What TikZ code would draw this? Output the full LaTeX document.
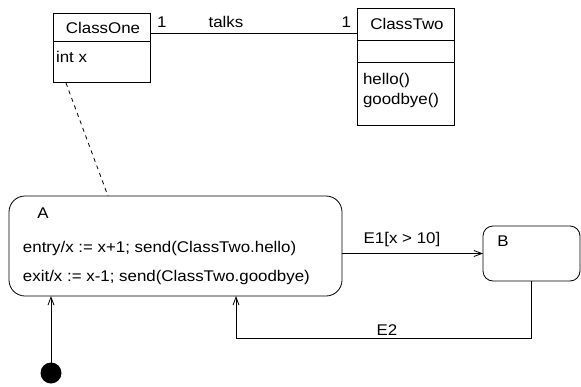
\documentclass[tikz,border=0pt]{standalone}
\usepackage{fontspec}
\setmainfont{Liberation Sans}[FakeStretch=1.09]
\usetikzlibrary{arrows.meta}

\begin{document}
\begin{tikzpicture}[y=-1pt, x=1pt, inner sep=0pt, outer sep=0pt,
  box/.style={draw=black, line width=0.8pt, minimum width=97pt},
  state/.style={draw=black, line width=0.8pt},
  txt/.style={font=\fontsize{15.5}{17}\selectfont},
  link/.style={draw=black, line width=0.8pt},
  tip/.style={-{Straight Barb[length=8pt,width=6pt]}}]
\useasboundingbox (0,0) rectangle (581,386);
% class diagram
\node[box, minimum height=69pt] (one) at (101.5,47.5) {};
\node[box, minimum height=117pt] (two) at (405.5,66.5) {};
\path[link] (one.west |- 0,41) -- (one.east |- 0,41);
\path[link] (two.west |- 0,40) -- (two.east |- 0,40);
\path[link] (two.west |- 0,62) -- (two.east |- 0,62);
\node[txt] (onename) at (103,28) {ClassOne};
\node[txt, anchor=west] (oneattr) at (56,57) {int x};
\node[txt] (twoname) at (407,24) {ClassTwo};
\node[txt, anchor=west] (twohello) at (363,80) {hello()};
\node[txt, anchor=west] (twobye) at (363,100) {goodbye()};
\path[link] (one.east |- 0,33) -- (two.west |- 0,33);
\node[txt, anchor=west] (multone) at (157,22) {1};
\node[txt] (assoc) at (226,22) {talks};
\node[txt, anchor=east] (multtwo) at (351,22) {1};
% state diagram
\node[state, rounded corners=16pt, minimum width=333pt, minimum height=100pt]
  (A) at (175.5,246) {};
\node[state, rounded corners=10pt, minimum width=97pt, minimum height=55pt]
  (B) at (531.5,253.5) {};
\node[txt] (Aname) at (43,213) {A};
\node[txt, anchor=west] (Aentry) at (23,248) {entry/x := x+1; send(ClassTwo.hello)};
\node[txt, anchor=west] (Aexit) at (23,277) {exit/x := x-1; send(ClassTwo.goodbye)};
\node[txt] (Bname) at (503,241) {B};
\path[link, dash pattern=on 4pt off 4pt] (66,83) -- (108,196);
\path[link, tip] (A.east |- B.west) -- (B.west);
\node[txt] (E1) at (402,239) {E1[x > 10]};
\coordinate (turn) at (236,338);
\path[link, tip] (B.south) |- (turn) -- (turn |- A.south);
\node[txt] (E2) at (387,330) {E2};
\node[circle, fill=black, minimum size=21pt] (init) at (51,373) {};
\path[link, tip] (init) -- (init |- A.south);
\end{tikzpicture}
\end{document}
